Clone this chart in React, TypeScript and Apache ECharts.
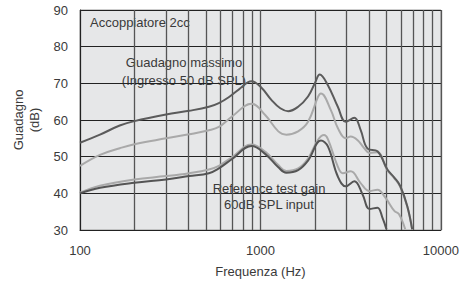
import React, { useEffect, useRef } from "react";
import * as echarts from "echarts";

const yTicks = [30, 40, 50, 60, 70, 80, 90];
const xTickLabels = ["100", "1000", "10000"];
const minorFreqs = [200, 300, 400, 500, 600, 700, 800, 900, 2000, 3000, 4000, 5000, 6000, 7000, 8000, 9000];

// Guadagno massimo (dark)
const maxGainDark: [number, number][] = [
  [100, 53.8], [129, 56.0], [166, 58.5], [200, 59.7], [300, 61.5], [402, 62.5], [518, 63.6],
  [588, 64.6], [667, 66.2], [757, 68.3], [892, 70.6], [1013, 68.8], [1149, 65.5], [1288, 63.2],
  [1425, 62.4], [1617, 63.6], [1835, 66.4], [2005, 70.1], [2130, 72.4], [2364, 69.5], [2683, 63.6],
  [2970, 59.5], [3313, 60.6], [3589, 57.3], [3921, 52.2], [4450, 51.5], [5050, 46.5], [5520, 44.3],
  [5950, 42.0], [6510, 36.5], [6930, 30.2],
];
// Guadagno massimo (light)
const maxGainLight: [number, number][] = [
  [100, 47.5], [129, 50.5], [166, 52.3], [200, 53.4], [300, 55.0], [402, 56.1], [518, 57.2],
  [588, 58.1], [693, 60.9], [892, 64.4], [1065, 61.3], [1256, 56.9], [1390, 56.0], [1617, 56.9],
  [1835, 59.5], [2084, 66.3], [2163, 67.2], [2455, 62.7], [2683, 57.8], [2970, 55.0], [3162, 55.5],
  [3455, 54.5], [3760, 52.3], [4020, 51.0], [4450, 51.2], [5050, 46.3], [5520, 44.1], [5950, 41.8],
  [6510, 36.4], [6930, 30.1],
];
// Reference test gain (light)
const refGainLight: [number, number][] = [
  [100, 40.2], [129, 42.1], [200, 43.8], [300, 44.7], [402, 45.5], [518, 46.5], [588, 47.5],
  [693, 49.8], [892, 53.3], [1065, 51.3], [1256, 47.7], [1390, 46.1], [1617, 46.8], [1835, 49.5],
  [2084, 54.6], [2250, 55.9], [2364, 54.8], [2683, 47.3], [2858, 45.5], [3162, 46.0], [3589, 42.8],
  [4020, 40.6], [4450, 41.0], [4923, 38.8], [5520, 35.2], [5860, 34.3], [6340, 30.2],
];
// Reference test gain (dark)
const refGainDark: [number, number][] = [
  [100, 40.0], [129, 41.5], [200, 42.9], [300, 43.8], [402, 44.7], [518, 45.5], [588, 46.8],
  [693, 49.3], [892, 52.9], [1065, 50.7], [1256, 47.1], [1390, 45.6], [1617, 46.3], [1835, 48.9],
  [2163, 54.4], [2364, 52.8], [2683, 44.6], [2970, 41.9], [3313, 43.3], [3680, 39.7], [4020, 35.7],
  [4450, 36.1], [4740, 33.4], [4990, 30.2],
];

const FONT = "Liberation Sans";
const TXT = "#3a3a3a";

export default function App() {
  const ref = useRef<HTMLDivElement>(null);
  useEffect(() => {
    if (!ref.current) return;
    document.body.style.margin = "0";
    const chart = echarts.init(ref.current, undefined, { renderer: "svg" });
    const line = (name: string, data: [number, number][], color: string) => ({
      name,
      type: "line",
      data,
      smooth: 0.4,
      showSymbol: false,
      symbol: "none",
      clip: true,
      lineStyle: { color, width: 2 },
    });
    chart.setOption({
      animation: false,
      grid: {
        left: 80,
        right: 18,
        top: 10,
        bottom: 52,
        show: true,
        backgroundColor: "#e6e7e8",
        borderColor: "#9a9a9a",
        borderWidth: 1,
      },
      xAxis: {
        type: "log",
        logBase: 10,
        min: 100,
        max: 10000,
        name: "Frequenza (Hz)",
        nameLocation: "middle",
        nameGap: 35,
        nameTextStyle: { fontFamily: FONT, fontSize: 13, color: TXT },
        axisLine: { show: true, lineStyle: { color: "#222", width: 1 } },
        axisTick: { show: false },
        axisLabel: {
          fontFamily: FONT,
          fontSize: 13,
          color: TXT,
          margin: 14,
          formatter: (v: number) => {
            const s = String(Math.round(v));
            return xTickLabels.includes(s) ? s : "";
          },
        },
        splitLine: { show: true, lineStyle: { color: "#555", width: 1.3 } },
      },
      yAxis: {
        type: "value",
        min: 30,
        max: 90,
        interval: 10,
        axisLine: { show: true, lineStyle: { color: "#222", width: 1 } },
        axisTick: { show: false },
        axisLabel: {
          fontFamily: FONT,
          fontSize: 13,
          color: TXT,
          margin: 12,
          formatter: (v: number) => (yTicks.includes(v) ? String(v) : ""),
        },
        splitLine: { show: true, lineStyle: { color: "#222", width: 1 } },
      },
      series: [
        {
          name: "grid",
          type: "line",
          data: [],
          markLine: {
            z: 1,
            silent: true,
            symbol: "none",
            label: { show: false },
            lineStyle: { color: "#555", width: 1.3, type: "solid" },
            data: minorFreqs.map((f) => ({ xAxis: f })),
          },
        },
        line("Guadagno massimo (chiaro)", maxGainLight, "#a9a9a9"),
        line("Reference (light)", refGainLight, "#a9a9a9"),
        line("Guadagno massimo", maxGainDark, "#5b5b5b"),
        line("Reference (dark)", refGainDark, "#555555"),
      ],
      graphic: [
        {
          type: "text",
          left: 90,
          top: 16,
          style: { text: "Accoppiatore 2cc", font: `13px "${FONT}"`, fill: TXT },
        },
        {
          type: "text",
          x: 184,
          y: 53,
          style: {
            text: "Guadagno massimo\n(Ingresso 50 dB SPL)",
            font: `13px "${FONT}"`,
            fill: TXT,
            align: "center",
            verticalAlign: "top",
            lineHeight: 18,
          },
        },
        {
          type: "text",
          x: 269,
          y: 180,
          style: {
            text: "Reference test gain\n60dB SPL input",
            font: `13px "${FONT}"`,
            fill: TXT,
            align: "center",
            verticalAlign: "top",
            lineHeight: 16,
          },
        },
        {
          type: "text",
          x: 26,
          y: 120,
          rotation: Math.PI / 2,
          style: {
            text: "Guadagno\n(dB)",
            font: `13px "${FONT}"`,
            fill: TXT,
            align: "center",
            verticalAlign: "middle",
            lineHeight: 16,
          },
        },
      ],
    });
    return () => chart.dispose();
  }, []);
  return <div ref={ref} style={{ width: 462, height: 283 }} />;
}
